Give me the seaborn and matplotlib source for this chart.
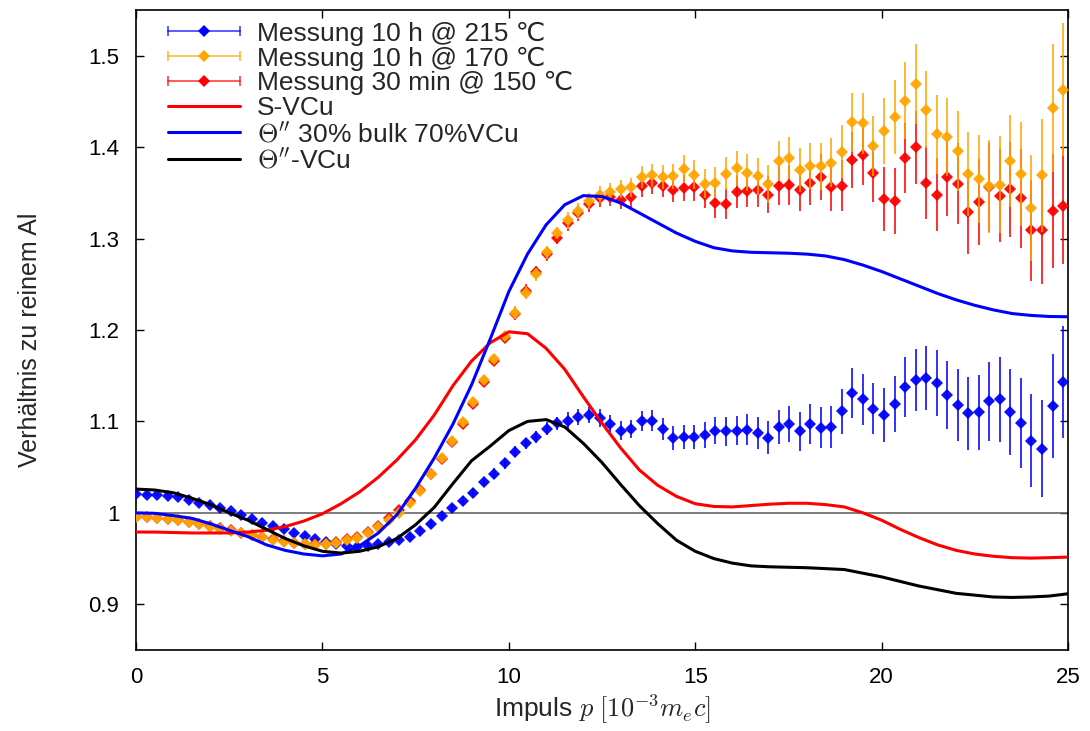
import numpy as np
import matplotlib
matplotlib.use('Agg')
import matplotlib.pyplot as plt
import seaborn as sns
from matplotlib.lines import Line2D
from matplotlib.legend_handler import HandlerLine2D, HandlerTuple

# measured momentum grid (10^-3 m_e c)
P_STEP = 0.2826
p = np.arange(89) * P_STEP

# Messung 10 h @ 215 C
ratio_215 = [
    1.021, 1.020, 1.019, 1.018, 1.017, 1.014, 1.011, 1.009, 1.005, 1.002,
    0.998, 0.993, 0.989, 0.986, 0.982, 0.978, 0.975, 0.971, 0.968, 0.966,
    0.964, 0.963, 0.964, 0.966, 0.968, 0.970, 0.974, 0.980, 0.988, 0.997,
    1.005, 1.013, 1.022, 1.034, 1.043, 1.054, 1.067, 1.076, 1.083, 1.092,
    1.098, 1.101, 1.105, 1.107, 1.104, 1.097, 1.090, 1.092, 1.100, 1.101,
    1.092, 1.082, 1.083, 1.083, 1.085, 1.090, 1.089, 1.090, 1.091, 1.087,
    1.082, 1.094, 1.097, 1.089, 1.097, 1.093, 1.094, 1.111, 1.131, 1.124,
    1.114, 1.107, 1.119, 1.138, 1.145, 1.148, 1.142, 1.129, 1.118, 1.109,
    1.110, 1.122, 1.124, 1.110, 1.098, 1.079, 1.070, 1.117, 1.143,
]
err_215 = [
    0.002, 0.002, 0.002, 0.002, 0.002, 0.002, 0.002, 0.002, 0.002, 0.002,
    0.0025, 0.0025, 0.0025, 0.0025, 0.0025, 0.0025, 0.0025, 0.0025, 0.0025, 0.0025,
    0.003, 0.003, 0.003, 0.003, 0.003, 0.003, 0.004, 0.004, 0.004, 0.004,
    0.005, 0.005, 0.005, 0.005, 0.006, 0.006, 0.006, 0.006, 0.007, 0.007,
    0.007, 0.009, 0.009, 0.009, 0.010, 0.010, 0.010, 0.010, 0.011, 0.012,
    0.012, 0.013, 0.013, 0.0135, 0.014, 0.015, 0.016, 0.016, 0.017, 0.0175,
    0.018, 0.019, 0.020, 0.021, 0.022, 0.0225, 0.023, 0.025, 0.027, 0.028,
    0.028, 0.030, 0.031, 0.033, 0.034, 0.035, 0.036, 0.037, 0.039, 0.040,
    0.041, 0.043, 0.046, 0.047, 0.049, 0.051, 0.053, 0.057, 0.061,
]

# Messung 10 h @ 170 C
ratio_170 = [
    0.996, 0.995, 0.994, 0.993, 0.992, 0.990, 0.988, 0.985, 0.9825, 0.980,
    0.978, 0.976, 0.974, 0.9705, 0.968, 0.967, 0.966, 0.965, 0.966, 0.967,
    0.970, 0.973, 0.978, 0.984, 0.992, 1.000, 1.011, 1.024, 1.042, 1.060,
    1.079, 1.099, 1.121, 1.145, 1.168, 1.193, 1.219, 1.241, 1.261, 1.285,
    1.306, 1.320, 1.330, 1.341, 1.348, 1.351, 1.354, 1.356, 1.367, 1.369,
    1.367, 1.368, 1.376, 1.370, 1.360, 1.361, 1.371, 1.377, 1.372, 1.368,
    1.360, 1.385, 1.388, 1.375, 1.379, 1.379, 1.383, 1.395, 1.427, 1.426,
    1.401, 1.418, 1.433, 1.451, 1.469, 1.441, 1.414, 1.411, 1.396, 1.371,
    1.365, 1.357, 1.359, 1.385, 1.371, 1.333, 1.369, 1.443, 1.463,
]
err_170 = [
    0.003, 0.003, 0.003, 0.003, 0.003, 0.003, 0.003, 0.003, 0.003, 0.003,
    0.003, 0.003, 0.003, 0.003, 0.003, 0.003, 0.003, 0.003, 0.003, 0.003,
    0.003, 0.004, 0.004, 0.004, 0.004, 0.004, 0.004, 0.004, 0.004, 0.004,
    0.004, 0.005, 0.005, 0.005, 0.005, 0.005, 0.007, 0.007, 0.007, 0.007,
    0.007, 0.009, 0.009, 0.009, 0.009, 0.010, 0.010, 0.010, 0.012, 0.013,
    0.013, 0.014, 0.015, 0.016, 0.016, 0.017, 0.018, 0.019, 0.020, 0.020,
    0.021, 0.022, 0.023, 0.024, 0.025, 0.026, 0.027, 0.029, 0.032, 0.033,
    0.033, 0.036, 0.040, 0.042, 0.044, 0.042, 0.043, 0.043, 0.044, 0.046,
    0.048, 0.051, 0.053, 0.050, 0.057, 0.058, 0.062, 0.070, 0.073,
]

# Messung 30 min @ 150 C
ratio_150 = [
    0.996, 0.995, 0.994, 0.993, 0.992, 0.990, 0.988, 0.986, 0.983, 0.981,
    0.978, 0.976, 0.974, 0.971, 0.969, 0.967, 0.966, 0.966, 0.966, 0.968,
    0.971, 0.974, 0.979, 0.986, 0.994, 1.003, 1.013, 1.025, 1.042, 1.059,
    1.078, 1.097, 1.119, 1.143, 1.166, 1.191, 1.218, 1.243, 1.263, 1.283,
    1.301, 1.317, 1.328, 1.338, 1.344, 1.346, 1.342, 1.345, 1.357, 1.361,
    1.358, 1.353, 1.355, 1.356, 1.348, 1.339, 1.338, 1.351, 1.352, 1.353,
    1.348, 1.358, 1.359, 1.353, 1.361, 1.367, 1.356, 1.358, 1.386, 1.391,
    1.372, 1.343, 1.341, 1.388, 1.400, 1.361, 1.348, 1.367, 1.360, 1.329,
    1.340, 1.356, 1.347, 1.354, 1.344, 1.309, 1.309, 1.330, 1.336,
]
err_150 = [
    0.003, 0.003, 0.003, 0.003, 0.003, 0.003, 0.003, 0.003, 0.003, 0.003,
    0.003, 0.003, 0.003, 0.003, 0.003, 0.003, 0.003, 0.003, 0.003, 0.003,
    0.003, 0.004, 0.004, 0.004, 0.004, 0.004, 0.004, 0.004, 0.004, 0.004,
    0.004, 0.005, 0.005, 0.005, 0.005, 0.005, 0.007, 0.007, 0.007, 0.007,
    0.007, 0.009, 0.009, 0.009, 0.009, 0.010, 0.010, 0.010, 0.012, 0.012,
    0.013, 0.013, 0.014, 0.015, 0.015, 0.016, 0.017, 0.018, 0.018, 0.019,
    0.020, 0.021, 0.022, 0.023, 0.024, 0.025, 0.026, 0.028, 0.031, 0.032,
    0.032, 0.035, 0.036, 0.038, 0.040, 0.040, 0.040, 0.042, 0.044, 0.046,
    0.047, 0.049, 0.051, 0.052, 0.054, 0.055, 0.059, 0.062, 0.064,
]

# theory curves, sampled every 0.5
p_theo = np.arange(0, 25.01, 0.5)
s_vcu = [
    0.979, 0.979, 0.9785, 0.978, 0.978, 0.978, 0.979, 0.981, 0.985, 0.991,
    0.999, 1.010, 1.023, 1.039, 1.058, 1.080, 1.107, 1.139, 1.166, 1.186,
    1.198, 1.196, 1.180, 1.157, 1.127, 1.098, 1.071, 1.047, 1.030, 1.018,
    1.010, 1.007, 1.0065, 1.008, 1.0095, 1.0105, 1.0105, 1.009, 1.0065, 1.000,
    0.992, 0.982, 0.973, 0.965, 0.959, 0.955, 0.9525, 0.951, 0.9505, 0.951,
    0.9516,
]
theta_mix = [
    1.000, 0.9995, 0.997, 0.994, 0.988, 0.981, 0.974, 0.965, 0.959, 0.955,
    0.953, 0.955, 0.964, 0.978, 0.998, 1.027, 1.060, 1.097, 1.140, 1.190,
    1.242, 1.283, 1.315, 1.337, 1.347, 1.346, 1.339, 1.328, 1.317, 1.306,
    1.297, 1.290, 1.2865, 1.285, 1.2845, 1.284, 1.283, 1.281, 1.277, 1.271,
    1.264, 1.256, 1.248, 1.240, 1.233, 1.227, 1.222, 1.218, 1.216, 1.2148,
    1.2145,
]
theta_vcu = [
    1.026, 1.025, 1.022, 1.016, 1.009, 1.000, 0.992, 0.982, 0.972, 0.964,
    0.958, 0.956, 0.958, 0.963, 0.972, 0.987, 1.006, 1.032, 1.057, 1.073,
    1.090, 1.100, 1.102, 1.094, 1.076, 1.055, 1.031, 1.008, 0.988, 0.970,
    0.958, 0.950, 0.945, 0.942, 0.941, 0.9405, 0.940, 0.939, 0.938, 0.934,
    0.930, 0.925, 0.920, 0.916, 0.912, 0.910, 0.908, 0.9075, 0.908, 0.909,
    0.9115,
]

series = [
    ('Messung 10 h @ 215 ℃', ratio_215, err_215, '#0000ff', 3),
    ('Messung 10 h @ 170 ℃', ratio_170, err_170, '#ffa500', 5),
    ('Messung 30 min @ 150 ℃', ratio_150, err_150, '#ff0000', 4),
]
curves = [
    ('S-VCu', s_vcu, '#ff0000'),
    (r"$\Theta''$ 30% bulk 70%VCu", theta_mix, '#0000ff'),
    (r"$\Theta''$-VCu", theta_vcu, '#000000'),
]

sns.set_theme(style='ticks')
plt.rcParams['font.family'] = ['Liberation Sans', 'DejaVu Sans']
plt.rcParams['mathtext.fontset'] = 'cm'

fig = plt.figure(figsize=(10.9, 7.31), dpi=100)
ax = fig.add_axes([0.1248, 0.1108, 0.855, 0.8755])

ax.axhline(1.0, color='0.4', lw=1.2, zorder=1)

handles = []
labels = []
for label, vals, errs, color, z in series:
    ax.errorbar(p, vals, yerr=errs, fmt='D', color=color, ms=6, mew=0,
                elinewidth=1.2, capsize=3.5, capthick=1.2, ecolor=color,
                alpha=0.95, zorder=z)
    caps = Line2D([], [], color=color, lw=1.2, marker='|', ms=7, mew=1.2, alpha=0.75)
    dot = Line2D([], [], color=color, ls='none', marker='D', ms=6, mew=0)
    handles.append((caps, dot))
    labels.append(label)

for label, vals, color in curves:
    sns.lineplot(x=p_theo, y=vals, color=color, lw=2.2, ax=ax, sort=False, zorder=6)
    handles.append(Line2D([], [], color=color, lw=2.2))
    labels.append(label)

handler_map = {}
for caps, dot in handles[:3]:
    handler_map[caps] = HandlerLine2D(numpoints=2, marker_pad=0)
    handler_map[dot] = HandlerLine2D(numpoints=1)
handler_map[tuple] = HandlerTuple(ndivide=1, pad=0)

ax.legend(handles, labels, handler_map=handler_map, loc='upper left',
          bbox_to_anchor=(0.0343, 0.982), frameon=False, fontsize=19,
          handlelength=2.73, handletextpad=0.64, labelspacing=0.03,
          borderaxespad=0, borderpad=0, numpoints=1)

ax.set_xlim(0, 25)
ax.set_ylim(0.85, 1.55)
ax.set_xticks([0, 5, 10, 15, 20, 25])
ax.set_yticks([0.9, 1.0, 1.1, 1.2, 1.3, 1.4, 1.5])
ax.set_yticklabels([f'{v:g}' for v in [0.9, 1.0, 1.1, 1.2, 1.3, 1.4, 1.5]])
ax.tick_params(direction='in', length=6, width=1, top=True, right=True,
               labelsize=16, colors='black')
ax.tick_params(axis='x', pad=12)
ax.tick_params(axis='y', pad=12)
for s in ax.spines.values():
    s.set_linewidth(1.2)
    s.set_color('black')

ax.set_xlabel(r'Impuls $p$ $[10^{-3}m_ec]$', fontsize=19)
ax.set_ylabel('Verhältnis zu reinem Al', fontsize=18)
ax.xaxis.set_label_coords(0.5, -0.066)
ax.yaxis.set_label_coords(-0.101, 0.484)

fig.savefig('out.png', dpi=100)
